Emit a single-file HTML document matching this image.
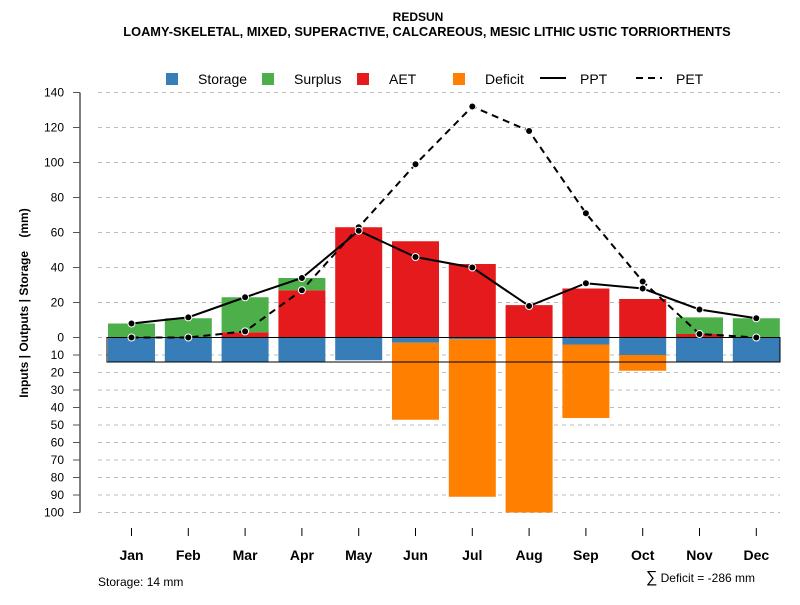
<!DOCTYPE html>
<html><head><meta charset="utf-8"><style>
body{margin:0;background:#fff;font-family:"Liberation Sans",sans-serif}
</style></head><body>
<svg id="c" width="800" height="600" xmlns="http://www.w3.org/2000/svg" font-family="Liberation Sans, sans-serif">
<text x="418" y="21" text-anchor="middle" font-size="12" font-weight="bold">REDSUN</text>
<text x="427" y="36" text-anchor="middle" font-size="12.8" font-weight="bold">LOAMY-SKELETAL, MIXED, SUPERACTIVE, CALCAREOUS, MESIC LITHIC USTIC TORRIORTHENTS</text>
<g id="legend">
<rect x="166" y="73" width="12" height="12" fill="#377eb8"/>
<text x="198" y="84" font-size="14">Storage</text>
<rect x="262" y="73" width="12" height="12" fill="#4daf4a"/>
<text x="294" y="84" font-size="14">Surplus</text>
<rect x="357" y="73" width="12" height="12" fill="#e41a1c"/>
<text x="389" y="84" font-size="14">AET</text>
<rect x="453" y="73" width="12" height="12" fill="#ff7f00"/>
<text x="485" y="84" font-size="14">Deficit</text>
<line x1="540" y1="78" x2="566" y2="78" stroke="#000" stroke-width="2"/>
<text x="580" y="84" font-size="14">PPT</text>
<line x1="636" y1="78" x2="662" y2="78" stroke="#000" stroke-width="2" stroke-dasharray="7,5"/>
<text x="676" y="84" font-size="14">PET</text>
</g>
<text transform="translate(28,303) rotate(-90)" text-anchor="middle" font-size="12" font-weight="bold">Inputs | Outputs | Storage&#160;&#160;&#160;&#160;(mm)</text>
<text x="98" y="586" font-size="12">Storage: 14 mm</text>
<text x="755" y="582" text-anchor="end" font-size="12"><tspan font-size="16">∑</tspan> Deficit = -286 mm</text>
</svg>
<script>
const months=["Jan","Feb","Mar","Apr","May","Jun","Jul","Aug","Sep","Oct","Nov","Dec"];
const storage=[14,14,14,14,13,3,1,0,4,10,14,14];
const deficit=[0,0,0,0,0,44,90,100,42,9,0,0];
const aet=[0,0,3,27,63,55,42,18.5,28,22,2,0];
const surplus=[8,11,20,7,0,0,0,0,0,0,9.5,11];
const ppt=[8,11.5,23,34,61,46,40,18,31,28,16,11];
const pet=[0,0,3.5,27,63,99,132,118,71,32,2,0];
const posTicks=[0,20,40,60,80,100,120,140];
const negTicks=[10,20,30,40,50,60,70,80,90,100];
const maxStorage=14;

const NS="http://www.w3.org/2000/svg",svg=document.getElementById("c");
const y0=337.5,k=1.75;
const yPos=v=>y0-v*k, yNeg=v=>y0+v*k;
const xC=i=>131.5+i*56.8, bw=47;
function mk(t,a,p){const e=document.createElementNS(NS,t);for(const n in a)e.setAttribute(n,a[n]);(p||svg).appendChild(e);return e;}
const g=mk("g",{});


posTicks.forEach(v=>{
 const l=mk("line",{x1:98,x2:780,y1:yPos(v),y2:yPos(v),stroke:"#bbb","stroke-dasharray":"4,4"},g);
 
 
 mk("line",{x1:73,x2:80,y1:yPos(v),y2:yPos(v),stroke:"#555"},g);
 const t=mk("text",{x:64,y:yPos(v)+4,"text-anchor":"end","font-size":12},g);t.textContent=v;
 
 
});
negTicks.forEach(v=>{
 const l=mk("line",{x1:98,x2:780,y1:yNeg(v),y2:yNeg(v),stroke:"#bbb","stroke-dasharray":"4,4"},g);
 
 
 mk("line",{x1:73,x2:80,y1:yNeg(v),y2:yNeg(v),stroke:"#555"},g);
 const t=mk("text",{x:64,y:yNeg(v)+4,"text-anchor":"end","font-size":12},g);t.textContent=v;
 
 
});
mk("line",{x1:80,x2:80,y1:yPos(140),y2:yNeg(100),stroke:"#555","stroke-width":1.5},g);
months.forEach((m,i)=>{
 const x=xC(i)-bw/2;
 let r;
 r=mk("rect",{x,y:yPos(aet[i]),width:bw,height:aet[i]*k,fill:"#e41a1c"});
 
 
 r=mk("rect",{x,y:yPos(aet[i]+surplus[i]),width:bw,height:surplus[i]*k,fill:"#4daf4a"});
 
 
 r=mk("rect",{x,y:y0,width:bw,height:storage[i]*k,fill:"#377eb8"});
 
 
 r=mk("rect",{x,y:yNeg(storage[i]),width:bw,height:deficit[i]*k,fill:"#ff7f00"});
 
 
 mk("line",{x1:xC(i),x2:xC(i),y1:528,y2:536,stroke:"#000"});
 const t=mk("text",{x:xC(i),y:560,"text-anchor":"middle","font-size":14,"font-weight":"bold"});t.textContent=m;
 
 
});
const box=mk("rect",{x:107,y:y0,width:673,height:maxStorage*k,fill:"none",stroke:"#000","stroke-width":1});


function series(arr,dash,name){
 const p=mk("polyline",{points:arr.map((v,i)=>xC(i)+","+yPos(v)).join(" "),fill:"none",stroke:"#000","stroke-width":2,"stroke-dasharray":dash});
 
 
 arr.forEach((v,i)=>{const c=mk("circle",{cx:xC(i),cy:yPos(v),r:3.5,fill:"#000",stroke:"#fff","stroke-width":1});
 
 });
}
series(pet,"7,5","pet");
series(ppt,"none","ppt");
</script>
</body></html>
